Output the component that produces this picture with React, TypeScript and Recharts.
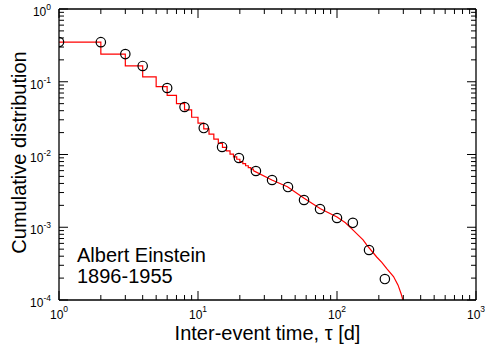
import React from "react";
import { ComposedChart, Line, Scatter, XAxis, YAxis } from "recharts";

const W = 485;
const H = 354;
const FONT = "'Liberation Sans', Arial, Helvetica, sans-serif";

// Axis ticks
const xMajorTicks = [1, 10, 100, 1000];
const xMajorLabels = ["0", "1", "2", "3"];
const xMinorTicks = [2, 3, 4, 5, 6, 7, 8, 9, 20, 30, 40, 50, 60, 70, 80, 90, 200, 300, 400, 500, 600, 700, 800, 900];
const yMajorTicks = [0.0001, 0.001, 0.01, 0.1, 1];
const yMajorLabels = ["-4", "-3", "-2", "-1", "0"];
const yMinorTicks = [
  0.0002, 0.0003, 0.0004, 0.0005, 0.0006, 0.0007, 0.0008, 0.0009,
  0.002, 0.003, 0.004, 0.005, 0.006, 0.007, 0.008, 0.009,
  0.02, 0.03, 0.04, 0.05, 0.06, 0.07, 0.08, 0.09,
  0.2, 0.3, 0.4, 0.5, 0.6, 0.7, 0.8, 0.9,
];

// Empirical cumulative distribution (step part, integer days)
const stepX = [1, 2, 3, 4, 5, 6, 7, 8, 9, 10, 11, 12, 13, 14, 15, 16, 17, 18, 19, 20, 21, 22, 23, 24, 25];
const stepY = [0.35, 0.24, 0.165, 0.117, 0.0855, 0.065, 0.05, 0.041, 0.0325, 0.027, 0.0225, 0.019, 0.0163, 0.0142, 0.0125, 0.0112, 0.0101, 0.0093, 0.0086, 0.008, 0.0075, 0.007, 0.0066, 0.0063, 0.006];

// Tail of the distribution
const tailX = [25, 34, 44, 58, 76, 100, 115, 130, 154, 164, 193, 210, 228, 255, 275, 290, 298];
const tailY = [0.006, 0.00446, 0.0036, 0.0025, 0.0018, 0.00138, 0.00115, 0.00092, 0.00067, 0.00057, 0.00039, 0.00033, 0.00027, 0.00021, 0.00016, 0.00012, 0.0001];

// Binned points (circles)
const pointX = [1, 2, 3, 4, 6, 8, 11, 14.9, 19.7, 26.1, 34.1, 44.4, 57.9, 75.5, 100, 130, 170, 221];
const pointY = [0.352, 0.35, 0.24, 0.165, 0.082, 0.045, 0.0231, 0.0127, 0.00895, 0.00593, 0.00446, 0.00357, 0.00237, 0.00178, 0.00134, 0.00115, 0.000487, 0.000194];

const stepData = stepX.map((x, i) => ({ x, y: stepY[i] }));
const tailData = tailX.map((x, i) => ({ x, y: tailY[i] }));
const pointData = pointX.map((x, i) => ({ x, y: pointY[i] }));

const xTicks = [...xMajorTicks, ...xMinorTicks];
const yTicks = [...yMajorTicks, ...yMinorTicks];

const majorIndex = (arr: number[], v: number) =>
  arr.findIndex((t) => Math.abs(t - v) / t < 1e-6);

const MAJ = 9;
const MIN = 5;

const XBottomTick = (p: any) => {
  const { x, y, payload } = p;
  const i = majorIndex(xMajorTicks, payload.value);
  if (i < 0) return <line x1={x} x2={x} y1={y} y2={y - MIN} stroke="#000" strokeWidth={1} />;
  return (
    <g>
      <line x1={x} x2={x} y1={y} y2={y - MAJ} stroke="#000" strokeWidth={1} />
      <text x={x} y={y + 18.5} textAnchor="middle" fontFamily={FONT} fill="#000">
        <tspan fontSize={12}>10</tspan>
        <tspan fontSize={8.5} dy={-7}>{xMajorLabels[i]}</tspan>
      </text>
    </g>
  );
};

const XTopTick = (p: any) => {
  const { x, y, payload } = p;
  const i = majorIndex(xMajorTicks, payload.value);
  return <line x1={x} x2={x} y1={y} y2={y + (i < 0 ? MIN : MAJ)} stroke="#000" strokeWidth={1} />;
};

const YLeftTick = (p: any) => {
  const { x, y, payload } = p;
  const i = majorIndex(yMajorTicks, payload.value);
  if (i < 0) return <line x1={x} x2={x + MIN} y1={y} y2={y} stroke="#000" strokeWidth={1} />;
  return (
    <g>
      <line x1={x} x2={x + MAJ} y1={y} y2={y} stroke="#000" strokeWidth={1} />
      <text x={x - 8} y={y + 7} textAnchor="end" fontFamily={FONT} fill="#000">
        <tspan fontSize={12}>10</tspan>
        <tspan fontSize={8.5} dy={-6}>{yMajorLabels[i]}</tspan>
      </text>
    </g>
  );
};

const YRightTick = (p: any) => {
  const { x, y, payload } = p;
  const i = majorIndex(yMajorTicks, payload.value);
  return <line x1={x} x2={x - (i < 0 ? MIN : MAJ)} y1={y} y2={y} stroke="#000" strokeWidth={1} />;
};

const Circle = (p: any) => (
  <circle cx={p.cx} cy={p.cy} r={4.7} fill="none" stroke="#000" strokeWidth={1.2} />
);

const axisLine = { stroke: "#000", strokeWidth: 1.3 };

export default function App() {
  return (
    <div style={{ position: "absolute", left: 0, top: 0, width: W, height: H, background: "#fff" }}>
      <ComposedChart width={W} height={H} margin={{ top: 0, right: 0, bottom: 0, left: 0 }}>
        <XAxis
          xAxisId={0}
          dataKey="x"
          type="number"
          scale="log"
          domain={[1, 1000]}
          allowDataOverflow
          ticks={xTicks}
          interval={0}
          tickSize={0}
          tickMargin={0}
          height={54}
          axisLine={axisLine}
          tickLine={false}
          tick={XBottomTick}
        />
        <XAxis
          xAxisId="top"
          orientation="top"
          dataKey="x"
          type="number"
          scale="log"
          domain={[1, 1000]}
          allowDataOverflow
          ticks={xTicks}
          interval={0}
          tickSize={0}
          tickMargin={0}
          height={9}
          axisLine={axisLine}
          tickLine={false}
          tick={XTopTick}
        />
        <YAxis
          yAxisId={0}
          dataKey="y"
          type="number"
          scale="log"
          domain={[0.0001, 1]}
          allowDataOverflow
          ticks={yTicks}
          interval={0}
          tickSize={0}
          tickMargin={0}
          width={59}
          axisLine={axisLine}
          tickLine={false}
          tick={YLeftTick}
        />
        <YAxis
          yAxisId="right"
          orientation="right"
          dataKey="y"
          type="number"
          scale="log"
          domain={[0.0001, 1]}
          allowDataOverflow
          ticks={yTicks}
          interval={0}
          tickSize={0}
          tickMargin={0}
          width={9}
          axisLine={axisLine}
          tickLine={false}
          tick={YRightTick}
        />
        <Line
          data={stepData}
          dataKey="y"
          type="stepAfter"
          stroke="#ff0000"
          strokeWidth={1.2}
          dot={false}
          isAnimationActive={false}
        />
        <Line
          data={tailData}
          dataKey="y"
          type="linear"
          stroke="#ff0000"
          strokeWidth={1.2}
          dot={false}
          isAnimationActive={false}
        />
        <Scatter data={pointData} dataKey="y" shape={Circle} isAnimationActive={false} />
      </ComposedChart>
      <svg
        width={W}
        height={H}
        style={{ position: "absolute", left: 0, top: 0, pointerEvents: "none" }}
      >
        <text x={77} y={262} fontFamily={FONT} fontSize={20} fill="#000">Albert Einstein</text>
        <text x={77} y={283} fontFamily={FONT} fontSize={20} fill="#000">1896-1955</text>
        <text x={267.5} y={339.5} textAnchor="middle" fontFamily={FONT} fontSize={20} fill="#000">
          Inter-event time, τ [d]
        </text>
        <text
          x={25.5}
          y={152.5}
          textAnchor="middle"
          fontFamily={FONT}
          fontSize={20}
          fill="#000"
          transform="rotate(-90 25.5 152.5)"
        >
          Cumulative distribution
        </text>
      </svg>
    </div>
  );
}
